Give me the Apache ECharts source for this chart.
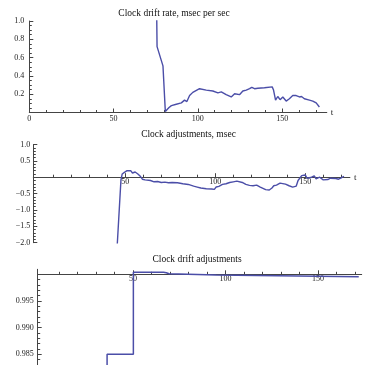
<!DOCTYPE html>
<html>
<head>
<meta charset="utf-8">
<script src="https://cdn.jsdelivr.net/npm/echarts@6/dist/echarts.min.js"></script>
<style>
  html, body { margin: 0; padding: 0; background: #fff; }
  #chart { width: 366px; height: 365px; }
</style>
</head>
<body>
<div id="chart"></div>
<script>
// Clock drift rate, msec per sec
const rateT = [75.5, 75.8, 79.3, 80.7, 81.7, 82.9, 84.3, 87.2, 90.2, 92.1, 93.5, 95.1, 97, 99.4, 100.2, 101, 102, 105, 108.9, 111.9,
  113.9, 116.8, 119.8, 121.8, 124.7, 126.7, 127.5, 128.7, 130.7, 132, 132.6, 133.6, 134.5, 135.6, 139.5, 144.1, 144.9, 146.1,
  147.4, 148.8, 150.4, 152.4, 154.3, 156.3, 157.3, 158.3, 160.3, 161.5, 163.2, 166.2, 168.2, 169, 170.2, 172.1];
const rateV = [1.2, 0.72, 0.51, 0.01, 0.0, 0.055, 0.075, 0.09, 0.105, 0.135, 0.12, 0.185, 0.22, 0.245, 0.23, 0.26, 0.245, 0.245, 0.235, 0.215,
  0.225, 0.195, 0.17, 0.205, 0.195, 0.235, 0.225, 0.245, 0.26, 0.275, 0.29, 0.26, 0.28, 0.265, 0.27, 0.28, 0.245, 0.135,
  0.175, 0.14, 0.17, 0.125, 0.15, 0.185, 0.165, 0.185, 0.17, 0.175, 0.15, 0.135, 0.125, 0.13, 0.105, 0.06];

// Clock adjustments, msec
const adjT = [45.5, 47.6, 48.3, 48.8, 49.5, 50.3, 51, 52, 53, 54, 55.5, 57, 58.5, 59.5, 61, 62, 64, 66, 68, 70, 72, 74, 75, 76, 79, 82,
  85, 88, 89, 90, 92, 95, 98, 99.5, 100.5, 102, 104, 106, 108, 110, 112, 113, 115, 117, 119, 121, 123, 125, 126, 128, 129, 130,
  131.5, 132.5, 134, 136, 137, 139, 141, 143, 144, 145, 146, 147, 148, 149, 150, 151, 152, 153.5, 155, 156, 157, 158, 159, 160,
  161, 162.5, 164, 165, 167, 168.5, 170, 171.5];
const adjV = [-2.1, -0.08, 0.1, 0.05, 0.15, 0.12, 0.2, 0.17, 0.2, 0.13, 0.16, 0.1, 0.02, -0.06, -0.08, -0.12, -0.1, -0.14, -0.13, -0.16,
  -0.15, -0.17, -0.11, -0.16, -0.17, -0.2, -0.22, -0.27, -0.24, -0.3, -0.33, -0.35, -0.36, -0.37, -0.3, -0.28, -0.22, -0.2, -0.16,
  -0.14, -0.12, -0.15, -0.16, -0.22, -0.25, -0.26, -0.24, -0.3, -0.36, -0.38, -0.33, -0.39, -0.33, -0.26, -0.24, -0.18, -0.22, -0.21,
  -0.26, -0.3, -0.24, -0.27, -0.1, -0.04, 0.05, 0.02, 0.07, -0.03, 0.02, 0.0, 0.04, -0.05, -0.1, 0.0, -0.03, -0.08, -0.05, -0.07,
  -0.03, -0.08, -0.04, -0.06, -0.02, 0.03];

// Clock drift adjustments (step plot)
const driftT = [36, 36, 50.2, 66.5, 68, 69.5, 95, 172];
const driftV = [0.978, 0.985, 1.0004, 1.0003, 1.0001, 0.99988, 0.99955, 0.99955];

// tick labels
const rateXLabels = [0, 50, 100, 150];
const rateYLabels = [0.2, 0.4, 0.6, 0.8, 1.0];
const adjXLabels = [50, 100, 150];
const adjYLabels = [1.0, 0.5, -0.5, -1.0, -1.5, -2.0];
const driftXLabels = [50, 100, 150];
const driftYLabels = [0.995, 0.990, 0.985];

function range(from, to, step) {
  const out = [];
  for (let v = from; v <= to + step / 1000; v += step) out.push(Math.round(v * 100000) / 100000);
  return out;
}
const xMinor = range(10, 170, 10);

const font = 'Liberation Serif';
const lineColor = '#4b4ea8';
const axisColor = '#444';
const labelStyle = { fontFamily: font, fontSize: 8, color: '#222' };

// the horizontal axes sit inside the plot (at y = 0 or y = 1), so they are moved in with a negative offset
function xPair(grid, min, max, labels, opts) {
  const main = {
    type: 'value', gridIndex: grid, min: min, max: max, position: opts.position || 'bottom',
    offset: opts.offset || 0, splitLine: { show: false },
    axisLine: { show: true, onZero: false, lineStyle: { color: axisColor, width: 1 } },
    axisTick: { show: true, inside: opts.tickInside, length: 4, customValues: labels, lineStyle: { color: axisColor } },
    axisLabel: Object.assign({ show: true, customValues: labels, margin: opts.margin, inside: !!opts.labelInside }, labelStyle),
    name: opts.name || '', nameLocation: 'end', nameGap: 4,
    nameTextStyle: { fontFamily: font, fontSize: 9, color: '#222' }
  };
  const minor = {
    type: 'value', gridIndex: grid, min: min, max: max, position: opts.position || 'bottom',
    offset: opts.offset || 0, splitLine: { show: false },
    axisLine: { show: false, onZero: false },
    axisTick: { show: true, inside: opts.tickInside, length: 2.5, customValues: xMinor, lineStyle: { color: axisColor } },
    axisLabel: { show: false }
  };
  return [main, minor];
}

function yPair(grid, min, max, labels, minorTicks, fmt, margin) {
  const main = {
    type: 'value', gridIndex: grid, min: min, max: max, position: 'left', splitLine: { show: false },
    axisLine: { show: true, onZero: false, lineStyle: { color: axisColor, width: 1 } },
    axisTick: { show: true, inside: true, length: 4, customValues: labels, lineStyle: { color: axisColor } },
    axisLabel: Object.assign({ show: true, customValues: labels, margin: margin, formatter: fmt }, labelStyle)
  };
  const minor = {
    type: 'value', gridIndex: grid, min: min, max: max, position: 'left', splitLine: { show: false },
    axisLine: { show: false, onZero: false },
    axisTick: { show: true, inside: true, length: 2.5, customValues: minorTicks, lineStyle: { color: axisColor } },
    axisLabel: { show: false }
  };
  return [main, minor];
}

const chart = echarts.init(document.getElementById('chart'));

chart.setOption({
  animation: false,
  backgroundColor: '#fff',
  graphic: [
    { type: 'text', x: 174, y: 13.5, style: { text: 'Clock drift rate, msec per sec', font: '9.5px "Liberation Serif"', fill: '#111', align: 'center', verticalAlign: 'middle' } },
    { type: 'text', x: 188.5, y: 134, style: { text: 'Clock adjustments, msec', font: '9.5px "Liberation Serif"', fill: '#111', align: 'center', verticalAlign: 'middle' } },
    { type: 'text', x: 197, y: 259, style: { text: 'Clock drift adjustments', font: '9.5px "Liberation Serif"', fill: '#111', align: 'center', verticalAlign: 'middle' } }
  ],
  grid: [
    { left: 29.3, top: 21, width: 297.5, height: 91.5, outerBoundsMode: 'none' },
    { left: 33.3, top: 144.5, width: 316.6, height: 98.2, outerBoundsMode: 'none' },
    { left: 37.7, top: 269.3, width: 324, height: 95.7, outerBoundsMode: 'none' }
  ],
  xAxis: [
    ...xPair(0, 0, 176.5, rateXLabels, { tickInside: true, margin: 2, name: 't' }),
    ...xPair(1, -1.1, 174.8, adjXLabels, { tickInside: true, margin: 1, name: 't', offset: -65.5 }),
    ...xPair(2, -1.5, 173.6, driftXLabels, { tickInside: false, margin: 1, position: 'top', offset: -5, labelInside: true })
  ],
  yAxis: [
    ...yPair(0, 0, 1, rateYLabels, range(0.05, 0.95, 0.05), v => v.toFixed(1), 5),
    ...yPair(1, -2, 1, adjYLabels, range(-1.9, 0.9, 0.1), v => (v < 0 ? '\u2212' : '') + Math.abs(v).toFixed(1), 3),
    ...yPair(2, 0.983, 1.00094, driftYLabels, range(0.984, 1.0, 0.001), v => v.toFixed(3), 4)
  ],
  series: [
    {
      type: 'line', xAxisIndex: 0, yAxisIndex: 0, showSymbol: false, clip: true,
      lineStyle: { color: lineColor, width: 1.4 },
      data: rateT.map((t, i) => [t, rateV[i]])
    },
    {
      type: 'line', xAxisIndex: 2, yAxisIndex: 2, showSymbol: false, clip: true,
      lineStyle: { color: lineColor, width: 1.4 },
      data: adjT.map((t, i) => [t, adjV[i]])
    },
    {
      type: 'line', xAxisIndex: 4, yAxisIndex: 4, showSymbol: false, clip: true, step: 'end',
      lineStyle: { color: lineColor, width: 1.5 },
      data: driftT.map((t, i) => [t, driftV[i]])
    }
  ]
});
</script>
</body>
</html>
